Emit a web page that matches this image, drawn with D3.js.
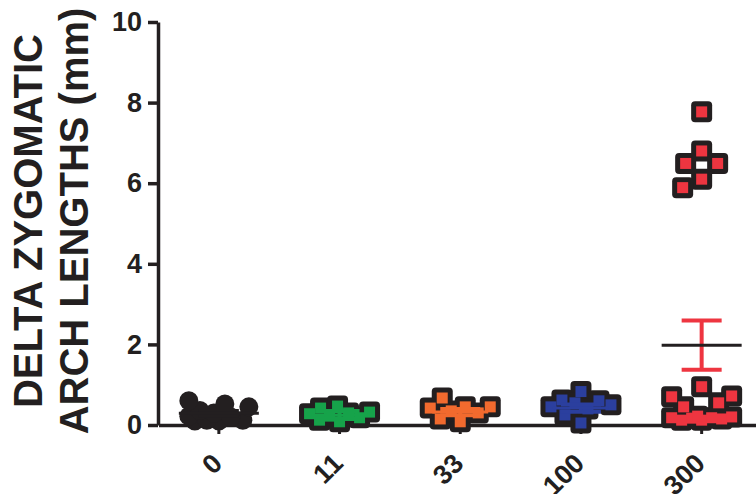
<!DOCTYPE html>
<html>
<head>
<meta charset="utf-8">
<script src="https://cdn.jsdelivr.net/npm/d3@7"></script>
<style>
  body { margin: 0; background: #fff; }
  text { font-family: "Liberation Sans", Arial, sans-serif; font-weight: bold; fill: #231f20; }
</style>
</head>
<body>
<div id="chart"></div>
<script>

const groups = ["0", "11", "33", "100", "300"];
const colors = ["#231f20", "#16a34a", "#f26a2e", "#2b3f9e", "#ee3540"];

// values in the order they are laid out
const vals0 = [0.10, 0.10, 0.12, 0.12, 0.20, 0.22, 0.30, 0.36, 0.45, 0.52, 0.60];
const vals11 = [0.08, 0.12, 0.18, 0.22, 0.28, 0.30, 0.32, 0.42, 0.47];
const vals33 = [0.08, 0.15, 0.30, 0.35, 0.42, 0.45, 0.45, 0.67];
const vals100 = [0.83, 0.05, 0.62, 0.60, 0.55, 0.50, 0.45, 0.40, 0.25];
const vals300 = [7.77, 6.80, 6.49, 6.49, 6.10, 5.89,
                 0.95, 0.12, 0.12, 0.15, 0.17, 0.18, 0.18, 0.20, 0.22, 0.45, 0.55, 0.70, 0.72];

const means = [0.29, 0.25, 0.32, 0.42, 1.98];
const sems = [0.06, 0.10, 0.08, 0.09, 0.61];

const yTicks = [0, 2, 4, 6, 8, 10];

const allVals = [vals0, vals11, vals33, vals100, vals300];

const [W, H] = [756, 494];

const svg = d3.select("#chart")
    .append("svg")
    .attr("width", W)
    .attr("height", H);

const y = d3.scaleLinear()
    .domain([0, 10])
    .range([425, 22]);

const x = d3.scaleBand()
    .domain(groups)
    .range([158.5, 762]);

// y axis
const yAxis = svg.append("g")
    .attr("transform", "translate(158,0)")
    .call(d3.axisLeft(y).tickValues(yTicks).tickSize(10).tickPadding(6).tickSizeOuter(0));

yAxis.select(".domain").attr("stroke", "#231f20").attr("stroke-width", 3.5);
yAxis.selectAll(".tick line").attr("stroke", "#231f20").attr("stroke-width", 3.5);
yAxis.selectAll(".tick text")
    .attr("font-size", 27)
    .attr("font-family", null)
    .attr("fill", "#231f20");

// x axis
const xAxis = svg.append("g")
    .attr("transform", "translate(0,425)")
    .call(d3.axisBottom(x).tickSize(9).tickSizeOuter(0));

xAxis.select(".domain").attr("stroke", "#231f20").attr("stroke-width", 3.5);
xAxis.selectAll(".tick line").attr("stroke", "#231f20").attr("stroke-width", 3);
xAxis.selectAll(".tick text")
    .attr("font-size", 27)
    .attr("font-family", null)
    .attr("fill", "#231f20")
    .attr("text-anchor", "end")
    .attr("x", 0)
    .attr("y", 0)
    .attr("dy", 0)
    .attr("transform", "translate(5,40) rotate(-45)");

// y axis title
const title = svg.append("text")
    .attr("text-anchor", "middle")
    .attr("font-size", 40)
    .attr("transform", "translate(42,221) rotate(-90)");

title.append("tspan").attr("x", 0).attr("y", 0).text("DELTA ZYGOMATIC");
title.append("tspan").attr("x", 0).attr("y", 46).text("ARCH LENGTHS (mm)");

// spread points sideways; when there is no free room within maxOff,
// take the spot that overlaps least
const dodge = (vals, dist, maxOff) => {
    const placed = [];
    const cands = d3.range(-maxOff, maxOff + 1)
        .sort((a, b) => Math.abs(a) - Math.abs(b) || a - b);
    vals.forEach(v => {
        const py = y(v);
        let best = 0, bestD = -1;
        for (const off of cands) {
            const d = placed.length
                ? d3.min(placed, q => Math.hypot(q.dx - off, q.py - py))
                : Infinity;
            if (d >= dist) { best = off; bestD = d; break; }
            if (d > bestD) { best = off; bestD = d; }
        }
        placed.push({v, dx: best, py});
    });
    return placed;
};

const pts = svg.append("g");

allVals.forEach((vals, gi) => {
    const cx = x(groups[gi]) + x.bandwidth() / 2;
    const g = pts.append("g");

    if (gi === 0) {
        const placed = dodge(vals, 24, 30);
        g.selectAll("circle")
            .data(placed)
            .enter()
            .append("circle")
            .attr("cx", d => cx + d.dx)
            .attr("cy", d => d.py)
            .attr("r", 9.5)
            .attr("fill", "#231f20");
    } else {
        const placed = dodge(vals, 20, 30);
        // outlines first, fills after
        g.selectAll(".outline")
            .data(placed)
            .enter()
            .append("rect")
            .attr("class", "outline")
            .attr("x", d => cx + d.dx - 10.5)
            .attr("y", d => d.py - 10.5)
            .attr("width", 21)
            .attr("height", 21)
            .attr("rx", 4)
            .attr("fill", "#231f20");
        g.selectAll(".fill")
            .data(placed)
            .enter()
            .append("rect")
            .attr("class", "fill")
            .attr("x", d => cx + d.dx - 5.5)
            .attr("y", d => d.py - 5.5)
            .attr("width", 11)
            .attr("height", 11)
            .attr("fill", colors[gi]);
    }
});

// mean and SEM
const stats = svg.append("g");

groups.forEach((grp, gi) => {
    const cx = x(grp) + x.bandwidth() / 2;
    const barColor = colors[gi];
    const meanColor = gi === 4 ? "#231f20" : colors[gi];
    const mw = gi === 0 || gi === 4 ? 40 : 28;
    const cw = 20;

    stats.append("line")
        .attr("x1", cx).attr("x2", cx)
        .attr("y1", y(means[gi] + sems[gi]))
        .attr("y2", y(means[gi] - sems[gi]))
        .attr("stroke", barColor)
        .attr("stroke-width", 4);

    [means[gi] + sems[gi], means[gi] - sems[gi]].forEach(v => {
        stats.append("line")
            .attr("x1", cx - cw).attr("x2", cx + cw)
            .attr("y1", y(v)).attr("y2", y(v))
            .attr("stroke", barColor)
            .attr("stroke-width", 4);
    });

    stats.append("line")
        .attr("x1", cx - mw).attr("x2", cx + mw)
        .attr("y1", y(means[gi])).attr("y2", y(means[gi]))
        .attr("stroke", meanColor)
        .attr("stroke-width", 3);
});

</script>
</body>
</html>
